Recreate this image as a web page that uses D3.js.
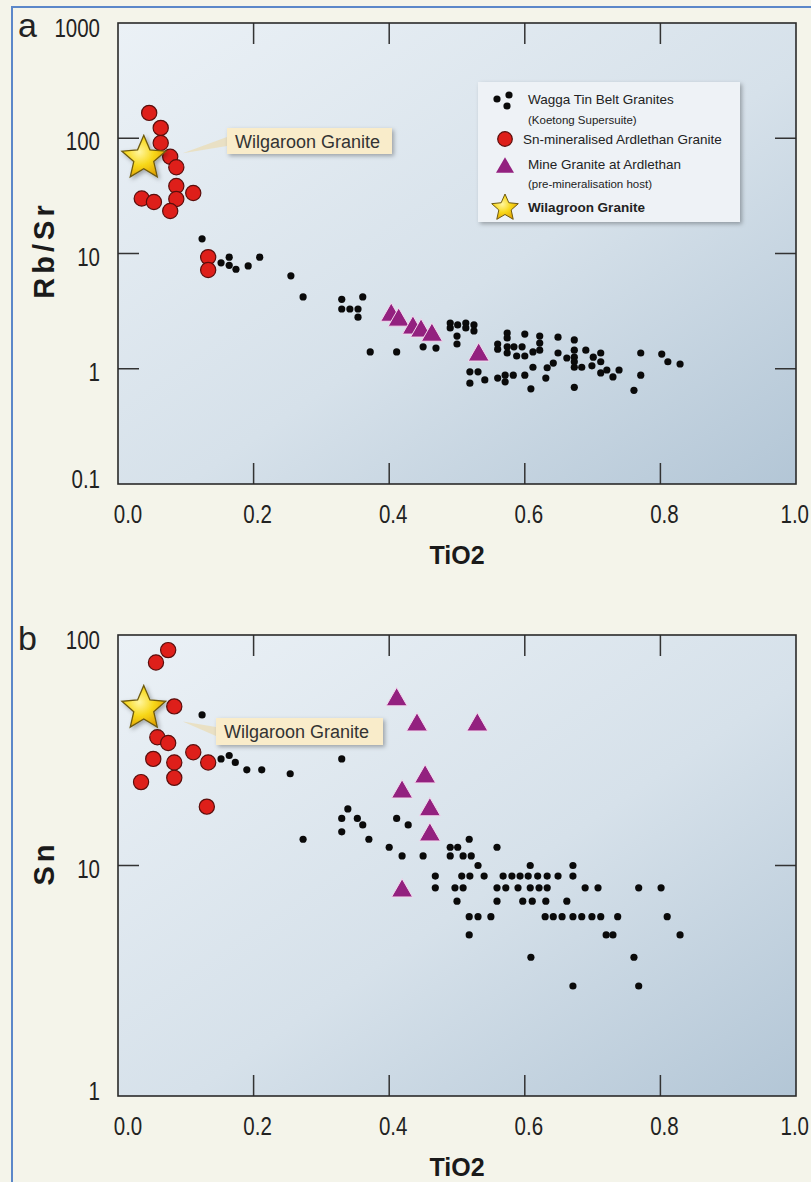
<!DOCTYPE html>
<html>
<head>
<meta charset="utf-8">
<script src="https://cdn.jsdelivr.net/npm/d3@7"></script>
<style>
  body { margin: 0; background: #f4f4ea; }
  svg { display: block; }
</style>
</head>
<body>
<div id="cnt"></div>
<script>
let ancho = 811;
let largo = 1182;

// ---- datos ----
// panel a: TiO2 vs Rb/Sr
let waggaA = [
  [0.124,13.4],[0.152,8.3],[0.164,9.3],[0.164,7.9],[0.174,7.3],[0.192,7.8],[0.209,9.3],[0.255,6.4],[0.273,4.2],
  [0.330,4.0],[0.361,4.2],[0.330,3.3],[0.342,3.3],[0.354,3.3],[0.354,2.8],[0.372,1.4],[0.411,1.4],[0.450,1.55],[0.469,1.51],
  [0.490,2.49],[0.490,2.26],[0.501,2.40],[0.513,2.49],[0.513,2.26],[0.525,2.40],[0.525,2.13],[0.500,1.92],[0.500,1.64],
  [0.574,2.04],[0.574,1.85],[0.600,2.0],[0.622,1.92],[0.622,1.67],[0.649,1.88],[0.673,1.78],
  [0.560,1.64],[0.560,1.48],[0.574,1.55],[0.574,1.37],[0.584,1.55],[0.596,1.55],[0.588,1.29],[0.600,1.29],[0.612,1.40],[0.622,1.45],
  [0.649,1.37],[0.662,1.24],[0.673,1.45],[0.673,1.26],[0.673,1.15],[0.690,1.45],[0.701,1.26],[0.712,1.37],[0.712,1.15],
  [0.642,1.12],[0.633,1.02],[0.612,1.03],[0.631,0.83],[0.600,0.88],[0.583,0.88],[0.571,0.88],[0.571,0.77],[0.560,0.83],
  [0.541,0.80],[0.519,0.94],[0.531,0.94],[0.519,0.75],[0.609,0.67],
  [0.673,1.03],[0.684,1.03],[0.699,1.06],[0.712,0.92],[0.721,0.975],[0.730,0.85],[0.739,0.975],[0.673,0.69],
  [0.771,1.37],[0.771,0.88],[0.761,0.65],[0.802,1.34],[0.811,1.15],[0.829,1.10]
];
let ardlethanA = [
  [0.046,166],[0.063,123],[0.063,91],[0.077,69],[0.086,56],[0.086,38.5],[0.035,30],[0.053,28],
  [0.086,29.7],[0.111,33.5],[0.077,23.4],[0.133,9.3],[0.133,7.2]
];
let mineA = [[0.403,3.1],[0.414,2.81],[0.435,2.40],[0.447,2.26],[0.463,2.08],[0.532,1.40]];
let wilgaroonA = [[0.038,67]];

// panel b: TiO2 vs Sn
let waggaB = [
  [0.124,45],[0.152,29],[0.164,30],[0.173,28],[0.190,26],[0.212,26],[0.254,25],[0.273,13],
  [0.330,29],[0.339,17.6],[0.330,16],[0.353,16],[0.361,15],[0.330,14],[0.370,13],
  [0.411,16],[0.428,15],[0.400,12],[0.419,11],[0.450,11],
  [0.518,13],[0.490,12],[0.501,12],[0.559,12],[0.490,11],[0.509,11],[0.521,11],[0.531,10],[0.608,10],[0.671,10],
  [0.468,9],[0.507,9],[0.519,9],[0.540,9],[0.568,9],[0.581,9],[0.593,9],[0.605,9],[0.619,9],[0.633,9],[0.649,9],[0.671,9],
  [0.468,8],[0.497,8],[0.509,8],[0.559,8],[0.572,8],[0.590,8],[0.608,8],[0.621,8],[0.633,8],[0.689,8],[0.708,8],[0.768,8],[0.801,8],
  [0.500,7],[0.559,7],[0.597,7],[0.611,7],[0.631,7],[0.662,7],
  [0.518,6],[0.531,6],[0.550,6],[0.630,6],[0.642,6],[0.655,6],[0.671,6],[0.684,6],[0.699,6],[0.712,6],[0.737,6],[0.810,6],
  [0.518,5],[0.720,5],[0.730,5],[0.829,5],
  [0.609,4],[0.761,4],[0.671,3],[0.768,3]
];
let ardlethanB = [
  [0.074,86],[0.056,76],[0.083,49],[0.058,36],[0.074,34],[0.111,31],[0.133,28],[0.052,29],
  [0.083,28],[0.083,24],[0.034,23],[0.131,18]
];
let mineB = [[0.411,54],[0.441,42],[0.530,42],[0.453,25],[0.419,21.5],[0.460,18],[0.460,14],[0.419,8]];
let wilgaroonB = [[0.038,48]];

let xTicks = [0.2, 0.4, 0.6, 0.8];
let xLabels = [0.0, 0.2, 0.4, 0.6, 0.8, 1.0];
let yTicksA = [100, 10, 1];
let yLabelsA = [1000, 100, 10, 1, 0.1];
let yTicksB = [10];
let yLabelsB = [100, 10, 1];

let leyenda = [
  {tipo: "dots", t1: "Wagga Tin Belt Granites", t2: "(Koetong Supersuite)"},
  {tipo: "circle", t1: "Sn-mineralised Ardlethan Granite"},
  {tipo: "tri", t1: "Mine Granite at Ardlethan", t2: "(pre-mineralisation host)"},
  {tipo: "star", t1: "Wilagroon Granite"}
];

let fSans = "'Liberation Sans', Arial, sans-serif";

//Crea SVG
let svg = d3.select('#cnt')
    .append("svg")
    .attr('width', ancho)
    .attr('height', largo);

let defs = svg.append("defs");

let grad = defs.append("linearGradient")
    .attr("id", "fondo")
    .attr("x1", 0).attr("y1", 0).attr("x2", 1).attr("y2", 1);
grad.append("stop").attr("offset", "0%").attr("stop-color", "#ebf1f6");
grad.append("stop").attr("offset", "55%").attr("stop-color", "#d6e1ea");
grad.append("stop").attr("offset", "100%").attr("stop-color", "#b3c6d6");

let gStar = defs.append("radialGradient")
    .attr("id", "oro")
    .attr("cx", "40%").attr("cy", "40%").attr("r", "65%");
gStar.append("stop").attr("offset", "0%").attr("stop-color", "#fff6a0");
gStar.append("stop").attr("offset", "50%").attr("stop-color", "#f8d81a");
gStar.append("stop").attr("offset", "100%").attr("stop-color", "#e0a000");

let sombra = defs.append("filter").attr("id", "sombra")
    .attr("x", "-20%").attr("y", "-20%").attr("width", "150%").attr("height", "150%");
sombra.append("feDropShadow")
    .attr("dx", 2).attr("dy", 2).attr("stdDeviation", 2)
    .attr("flood-color", "#000").attr("flood-opacity", 0.3);

//Marco exterior
svg.append("rect")
    .attr("x", 12).attr("y", 7)
    .attr("width", ancho + 10).attr("height", largo + 10)
    .style("fill", "#f4f4ea")
    .style("stroke", "#5b87c9")
    .style("stroke-width", 2);

let izq = 118, der = 796;

function starPath(R, r) {
    let pts = [];
    for (let i = 0; i < 10; i++) {
        let a = -Math.PI / 2 + i * Math.PI / 5;
        let rr = i % 2 === 0 ? R : r;
        pts.push([rr * Math.cos(a), rr * Math.sin(a)]);
    }
    return "M" + pts.map(p => p[0].toFixed(2) + "," + p[1].toFixed(2)).join("L") + "Z";
}
function triPath(w) {
    let h = w * 0.87;
    return "M0," + (-h / 2) + "L" + (w / 2) + "," + (h / 2) + "L" + (-w / 2) + "," + (h / 2) + "Z";
}

// texto estrecho (tipo Arial Narrow) escalando en x
function narrow(sel, px, py, anchor) {
    return sel.append("text")
        .attr("transform", "translate(" + px + "," + py + ") scale(0.82,1)")
        .attr("text-anchor", anchor)
        .style("font-family", fSans).style("font-size", "25px").style("fill", "#222");
}

function panel(cfg) {
    let x = d3.scaleLinear().domain([0, 1]).range([izq, der]);
    let y = d3.scaleLog().domain(cfg.dom).range([cfg.bottom, cfg.top]);
    let g = svg.append("g");

    g.append("rect")
        .attr("x", izq).attr("y", cfg.top)
        .attr("width", der - izq).attr("height", cfg.bottom - cfg.top)
        .style("fill", "url(#fondo)");

    // ticks hacia dentro
    let tl = 21;
    g.selectAll(".tx").data(xTicks).enter().append("path")
        .attr("d", d => "M" + x(d) + "," + cfg.bottom + "v" + (-tl) + "M" + x(d) + "," + cfg.top + "v" + tl)
        .style("stroke", "#333").style("stroke-width", 1.5);
    g.selectAll(".ty").data(cfg.yTicks).enter().append("path")
        .attr("d", d => "M" + izq + "," + y(d) + "h" + tl + "M" + der + "," + y(d) + "h" + (-tl))
        .style("stroke", "#333").style("stroke-width", 1.5);

    g.append("rect")
        .attr("x", izq).attr("y", cfg.top)
        .attr("width", der - izq).attr("height", cfg.bottom - cfg.top)
        .style("fill", "none").style("stroke", "#2a2a2a").style("stroke-width", 1.6);

    // etiquetas
    xLabels.forEach(function (d) {
        let px = d === 1 ? 809 : x(d) + (d === 0 ? 10 : 4);
        narrow(g, px, cfg.bottom + 39, d === 1 ? "end" : "middle").text(d.toFixed(1));
    });
    cfg.yLabels.forEach(function (d) {
        let py = Math.min(Math.max(y(d) + 12, cfg.top + 14), cfg.bottom + 4);
        narrow(g, 100, py, "end").text(d);
    });

    g.append("text")
        .attr("x", 457).attr("y", cfg.bottom + 80)
        .attr("text-anchor", "middle")
        .style("font-family", fSans).style("font-weight", "bold").style("font-size", "25px")
        .style("fill", "#1a1a1a")
        .text("TiO2");
    g.append("text")
        .attr("transform", "translate(54," + cfg.yTitle + ") rotate(-90)")
        .attr("text-anchor", "middle")
        .style("font-family", fSans).style("font-weight", "bold").style("font-size", "29px")
        .style("letter-spacing", "4px").style("fill", "#1a1a1a")
        .text(cfg.yName);
    g.append("text")
        .attr("x", 18).attr("y", cfg.top + cfg.letraDy)
        .style("font-family", fSans).style("font-size", "34px").style("fill", "#222")
        .text(cfg.letra);

    // puntos
    g.selectAll(".wg").data(cfg.wagga).enter().append("circle")
        .attr("cx", d => x(d[0])).attr("cy", d => y(d[1]))
        .attr("r", 3.6).style("fill", "#0a0a0a");

    g.selectAll(".mg").data(cfg.mine).enter().append("path")
        .attr("transform", d => "translate(" + x(d[0]) + "," + y(d[1]) + ")")
        .attr("d", triPath(21))
        .style("fill", "#93217f").style("stroke", "#f3d9ee").style("stroke-width", 1);

    g.selectAll(".ar").data(cfg.ard).enter().append("circle")
        .attr("cx", d => x(d[0])).attr("cy", d => y(d[1]))
        .attr("r", 7.6)
        .style("fill", "#de1f1a").style("stroke", "#5a0e0c").style("stroke-width", 1.2);

    // etiqueta Wilgaroon
    let s = cfg.star[0];
    let sx = x(s[0]), sy = y(s[1]);
    let b = cfg.caja;
    g.append("path")
        .attr("d", "M" + (sx + 39) + "," + (sy + cfg.tipDy) + "L" + b.x + "," + (b.y + 9) + "L" + b.x + "," + (b.y + 18) + "Z")
        .style("fill", "#e9dfbf").style("opacity", 0.9);
    g.append("rect")
        .attr("x", b.x).attr("y", b.y).attr("width", b.w).attr("height", b.h)
        .style("fill", "#f9ecca").attr("filter", "url(#sombra)");
    g.append("text")
        .attr("x", b.x + 8).attr("y", b.y + b.h / 2 + 6.5)
        .style("font-family", fSans).style("font-size", "18px").style("fill", "#333")
        .text("Wilgaroon Granite");

    g.selectAll(".st").data(cfg.star).enter().append("path")
        .attr("transform", d => "translate(" + x(d[0]) + "," + y(d[1]) + ")")
        .attr("d", starPath(23, 10.5))
        .attr("filter", "url(#sombra)")
        .style("fill", "url(#oro)").style("stroke", "#6e5a10").style("stroke-width", 1.3);
}

panel({
    top: 23, bottom: 484, dom: [0.1, 1000],
    yTicks: yTicksA, yLabels: yLabelsA, yName: "Rb/Sr", yTitle: 250,
    letra: "a", letraDy: 14,
    wagga: waggaA, ard: ardlethanA, mine: mineA, star: wilgaroonA,
    caja: {x: 227, y: 128, w: 165, h: 26}, tipDy: -5
});
panel({
    top: 635, bottom: 1096, dom: [1, 100],
    yTicks: yTicksB, yLabels: yLabelsB, yName: "Sn", yTitle: 863,
    letra: "b", letraDy: 15,
    wagga: waggaB, ard: ardlethanB, mine: mineB, star: wilgaroonB,
    caja: {x: 216, y: 718, w: 167, h: 27}, tipDy: 13
});

//Leyenda
let ley = svg.append("g");
ley.append("rect")
    .attr("x", 478).attr("y", 82).attr("width", 262).attr("height", 140)
    .style("fill", "#eef2f6").attr("filter", "url(#sombra)");

let filas = [99, 139, 164, 207];
let subFilas = [120, null, 184, null];
leyenda.forEach(function (d, i) {
    let yy = filas[i];
    if (d.tipo === "dots") {
        [[-8, 1], [4, -3], [2, 8]].forEach(function (p) {
            ley.append("circle").attr("cx", 505 + p[0]).attr("cy", yy + p[1] - 1)
                .attr("r", 3.6).style("fill", "#0a0a0a");
        });
    } else if (d.tipo === "circle") {
        ley.append("circle").attr("cx", 505).attr("cy", yy)
            .attr("r", 7.3).style("fill", "#de1f1a").style("stroke", "#5a0e0c").style("stroke-width", 1.2);
    } else if (d.tipo === "tri") {
        ley.append("path").attr("transform", "translate(505," + (yy + 1) + ")")
            .attr("d", triPath(18)).style("fill", "#93217f");
    } else {
        ley.append("path").attr("transform", "translate(505," + (yy + 1) + ")")
            .attr("d", starPath(14, 6.5))
            .style("fill", "url(#oro)").style("stroke", "#6e5a10").style("stroke-width", 1);
    }
    ley.append("text")
        .attr("x", d.tipo === "circle" ? 523 : 528).attr("y", yy + 5)
        .style("font-family", fSans).style("font-size", "13.5px")
        .style("font-weight", d.tipo === "star" ? "bold" : "normal")
        .style("fill", "#222")
        .text(d.t1);
    if (d.t2) {
        ley.append("text")
            .attr("x", 528).attr("y", subFilas[i] + 4)
            .style("font-family", fSans).style("font-size", "11.5px").style("fill", "#222")
            .text(d.t2);
    }
});
</script>
</body>
</html>
